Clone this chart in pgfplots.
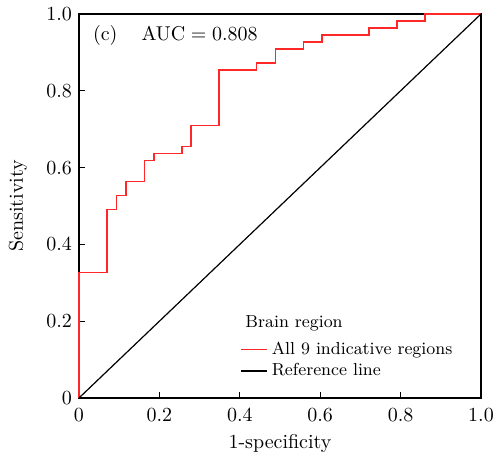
\documentclass[border=0pt]{standalone}
\usepackage{pgfplots}
\pgfplotsset{compat=1.18}
\definecolor{rocred}{RGB}{255,40,40}
\begin{document}
\begin{tikzpicture}
\begin{axis}[
  width=201pt, height=192pt, scale only axis,
  xmin=0, xmax=1, ymin=0, ymax=1,
  xtick={0,0.2,0.4,0.6,0.8,1.0},
  xticklabels={0,0.2,0.4,0.6,0.8,1.0},
  ytick={0,0.2,0.4,0.6,0.8,1.0},
  yticklabels={0,0.2,0.4,0.6,0.8,1.0},
  xtick pos=left, ytick pos=left,
  tick align=inside,
  major tick length=3pt,
  axis line style={line width=0.6pt},
  tick style={line width=0.5pt, black},
  tick label style={font=\fontsize{10}{12}\selectfont},
  xticklabel style={yshift=-1.5pt},
  label style={font=\fontsize{10}{12}\selectfont},
  xlabel={1-specificity},
  ylabel={Sensitivity},
  xlabel style={at={(axis description cs:0.5,0)}, anchor=center, yshift=-23pt},
  ylabel style={at={(axis description cs:0,0.5)}, anchor=center, yshift=30.5pt},
  legend style={at={(rel axis cs:0.385,0.168)}, anchor=north west, draw=none, fill=none,
    font=\fontsize{8.7}{10}\selectfont, row sep=-1pt},
  legend cell align=left,
  legend image code/.code={\draw[#1] (-6.5pt,0pt) -- (6.5pt,0pt);},
  clip=false,
]
\addplot[rocred, line width=0.8pt] coordinates {
(0,0) (0,0.3273) (0.0698,0.3273) (0.0698,0.4909) (0.0930,0.4909) (0.0930,0.5273)
(0.1163,0.5273) (0.1163,0.5636) (0.1628,0.5636) (0.1628,0.6182) (0.1860,0.6182) (0.1860,0.6364)
(0.2558,0.6364) (0.2558,0.6545) (0.2791,0.6545) (0.2791,0.7091) (0.3488,0.7091) (0.3488,0.8545)
(0.4419,0.8545) (0.4419,0.8727) (0.4884,0.8727) (0.4884,0.9091) (0.5581,0.9091) (0.5581,0.9273)
(0.6047,0.9273) (0.6047,0.9455) (0.7209,0.9455) (0.7209,0.9636) (0.7907,0.9636) (0.7907,0.9818)
(0.8605,0.9818) (0.8605,1.0) (1.0,1.0)
};
\addlegendentry{All 9 indicative regions}
\addplot[black, line width=0.6pt] coordinates {(0,0) (1,1)};
\addlegendentry{Reference line}
\node[anchor=west, font=\fontsize{8.7}{10}\selectfont, inner sep=0pt] at (rel axis cs:0.413,0.195) {Brain region};
\node[anchor=west, font=\fontsize{10}{12}\selectfont, inner sep=0pt] at (rel axis cs:0.034,0.945) {(c)\hspace{12pt}$\mathrm{AUC}=0.808$};
\end{axis}
\pgfresetboundingbox
\path (current axis.south west) ++(-39.5pt,-27.5pt) coordinate (bl);
\path (current axis.north east) ++(9.5pt,7pt) coordinate (tr);
\path[use as bounding box] (bl) rectangle (tr);
\end{tikzpicture}
\end{document}
